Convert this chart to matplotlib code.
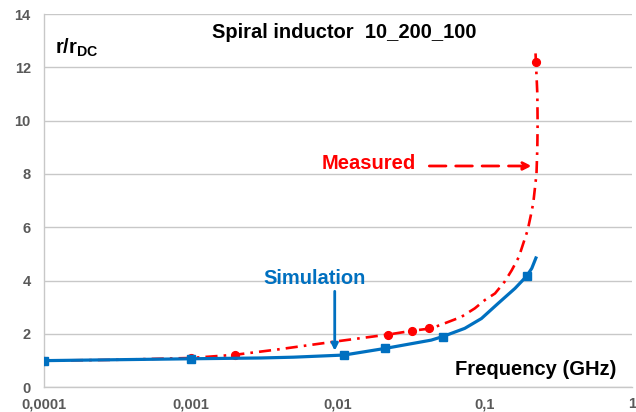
import matplotlib

matplotlib.use("Agg")
import matplotlib.pyplot as plt

plt.rcParams["font.family"] = ["Liberation Sans", "DejaVu Sans"]
plt.rcParams["mathtext.fontset"] = "custom"
plt.rcParams["mathtext.rm"] = "Liberation Sans"
plt.rcParams["mathtext.bf"] = "Liberation Sans:bold"

RED = "#ff0000"
BLUE = "#0070c0"
GRID = "#c8c8c8"
TICK = "#595959"

# measured curve (dash-dot) and its markers
meas_curve_f = [0.0001, 0.0003, 0.001, 0.002, 0.0039, 0.0094, 0.022, 0.032, 0.0431,
                0.0532, 0.069, 0.0852, 0.0997, 0.117, 0.136, 0.152, 0.170, 0.182,
                0.195, 0.205, 0.213, 0.224, 0.227, 0.228, 0.227, 0.222, 0.220]
meas_curve_r = [1.00, 1.03, 1.10, 1.22, 1.42, 1.71, 1.98, 2.12, 2.21,
                2.40, 2.64, 2.96, 3.27, 3.52, 3.96, 4.39, 4.89, 5.39,
                5.89, 6.45, 6.91, 8.0, 9.0, 9.9, 11.0, 12.2, 12.7]
meas_pts_f = [0.0001, 0.001, 0.002, 0.022, 0.032, 0.0416, 0.222]
meas_pts_r = [1.0, 1.1, 1.22, 1.98, 2.12, 2.21, 12.21]

# simulation curve (solid) and its markers
sim_curve_f = [0.0001, 0.001, 0.003, 0.005, 0.011, 0.021, 0.0431, 0.0514, 0.0728,
               0.0946, 0.123, 0.160, 0.192, 0.208, 0.222]
sim_curve_r = [1.0, 1.07, 1.1, 1.13, 1.21, 1.46, 1.77, 1.90, 2.21,
               2.58, 3.15, 3.71, 4.17, 4.46, 4.85]
sim_pts_f = [0.0001, 0.001, 0.011, 0.021, 0.0514, 0.192]
sim_pts_r = [1.0, 1.08, 1.21, 1.46, 1.90, 4.17]

x_ticks = [0.0001, 0.001, 0.01, 0.1, 1]
x_tick_labels = ["0,0001", "0,001", "0,01", "0,1", "1"]
y_ticks = [0, 2, 4, 6, 8, 10, 12, 14]

fig = plt.figure(figsize=(6.36, 4.12), dpi=100)
ax = fig.add_axes([44 / 636, 1 - 387.3 / 412, 588 / 636, 373.3 / 412])

ax.plot(meas_curve_f, meas_curve_r, color=RED, linewidth=1.9,
        linestyle=(0, (4.6, 2.3, 1.0, 2.3)), zorder=3)
ax.plot(meas_pts_f, meas_pts_r, linestyle="none", marker="o", markersize=5.6,
        color=RED, zorder=4)
ax.plot(sim_curve_f, sim_curve_r, color=BLUE, linewidth=2.3, zorder=5)
ax.plot(sim_pts_f, sim_pts_r, linestyle="none", marker="s", markersize=5.8,
        color=BLUE, zorder=6)

ax.set_xscale("log")
ax.set_xlim(0.0001, 1)
ax.set_ylim(0, 14)
ax.set_xticks(x_ticks)
ax.set_xticklabels(x_tick_labels)
ax.xaxis.set_minor_locator(matplotlib.ticker.NullLocator())
ax.set_yticks(y_ticks)
ax.tick_params(axis="both", length=0, labelsize=10.5, labelcolor=TICK)
ax.tick_params(axis="x", pad=7)
ax.tick_params(axis="y", pad=9.5)
for lab in ax.get_xticklabels() + ax.get_yticklabels():
    lab.set_fontweight("bold")

ax.grid(axis="y", color=GRID, linewidth=1.0)
ax.set_axisbelow(True)
for side in ("top", "right"):
    ax.spines[side].set_visible(False)
for side in ("left", "bottom"):
    ax.spines[side].set_color(GRID)
    ax.spines[side].set_linewidth(1.0)

fig.text(344 / 636, 1 - 33 / 412, "Spiral inductor  10_200_100", ha="center",
         va="center", fontsize=14.5, fontweight="bold")
fig.text(55 / 636, 1 - 48 / 412, r"r/r$_{\mathbf{DC}}$", ha="left", va="center",
         fontsize=14.5, fontweight="bold")
ax.text(0.221, 0.65, "Frequency (GHz)", ha="center", va="center",
        fontsize=14.5, fontweight="bold")

ax.text(0.0163, 8.4, "Measured", ha="center", va="center", color=RED,
        fontsize=14.5, fontweight="bold")
ax.annotate("", xy=(0.2075, 8.3), xytext=(0.0418, 8.3),
            arrowprops=dict(arrowstyle="-|>", color=RED, lw=2,
                            linestyle=(0, (6, 3.5)), mutation_scale=12,
                            shrinkA=0, shrinkB=0))

ax.text(0.00697, 4.09, "Simulation", ha="center", va="center", color=BLUE,
        fontsize=14.5, fontweight="bold")
ax.annotate("", xy=(0.0095, 1.37), xytext=(0.0095, 3.6),
            arrowprops=dict(arrowstyle="-|>", color=BLUE, lw=2,
                            mutation_scale=10, shrinkA=0, shrinkB=0))

fig.savefig("out.png", dpi=100)
